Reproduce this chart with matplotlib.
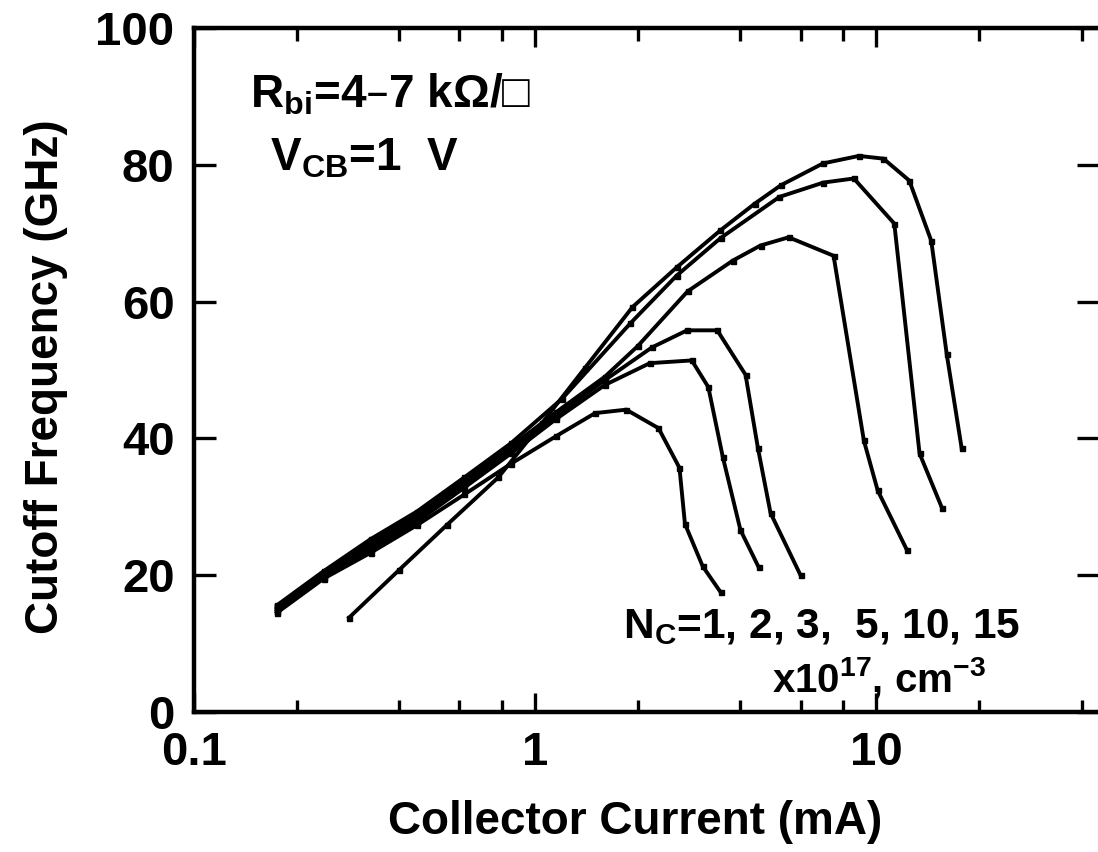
import matplotlib
matplotlib.use("Agg")
import matplotlib.pyplot as plt
from matplotlib.ticker import LogLocator, FixedLocator, NullFormatter, FixedFormatter

# ---- data ----
nc1_x = [0.175, 0.24, 0.33, 0.45, 0.62, 0.85, 1.15, 1.5, 1.85, 2.3, 2.65, 2.75, 3.1, 3.5]
nc1_y = [14.5, 19.5, 23.3, 27.3, 31.8, 36.3, 40.3, 43.7, 44.2, 41.5, 35.7, 27.5, 21.3, 17.5]

nc2_x = [0.175, 0.24, 0.33, 0.45, 0.62, 0.85, 1.15, 1.6, 2.17, 2.88, 3.22, 3.55, 4.0, 4.52]
nc2_y = [14.8, 19.8, 23.8, 27.8, 32.8, 37.8, 42.8, 47.8, 51.0, 51.4, 47.5, 37.3, 26.6, 21.2]

nc3_x = [0.175, 0.24, 0.33, 0.45, 0.62, 0.85, 1.15, 1.6, 2.2, 2.79, 3.42, 4.14, 4.5, 4.9, 6.0]
nc3_y = [15.1, 20.1, 24.3, 28.3, 33.3, 38.3, 43.3, 48.5, 53.3, 55.8, 55.8, 49.3, 38.6, 29.1, 20.0]

nc5_x = [0.175, 0.24, 0.33, 0.45, 0.62, 0.85, 1.15, 1.6, 2.0, 2.8, 3.8, 4.58, 5.54, 7.5, 9.2, 10.1, 12.3]
nc5_y = [15.3, 20.3, 24.8, 28.8, 33.8, 38.8, 43.8, 49.0, 53.5, 61.5, 66.0, 68.2, 69.4, 66.7, 39.7, 32.4, 23.7]

nc10_x = [0.175, 0.24, 0.33, 0.45, 0.62, 0.85, 1.2, 1.9, 2.6, 3.5, 5.2, 7.0, 8.6, 11.3, 13.4, 15.6]
nc10_y = [15.6, 20.6, 25.3, 29.3, 34.3, 39.3, 45.8, 56.8, 63.8, 69.3, 75.3, 77.4, 78.0, 71.4, 37.8, 29.8]

nc15_x = [0.285, 0.4, 0.55, 0.78, 1.05, 1.4, 1.93, 2.6, 3.49, 4.4, 5.25, 6.98, 8.9, 10.5, 12.5, 14.5, 16.1, 17.8]
nc15_y = [13.8, 20.8, 27.3, 34.3, 42.3, 50.3, 59.2, 65.0, 70.4, 74.3, 77.0, 80.2, 81.3, 80.9, 77.7, 68.9, 52.3, 38.6]

series = [(nc1_x, nc1_y), (nc2_x, nc2_y), (nc3_x, nc3_y),
          (nc5_x, nc5_y), (nc10_x, nc10_y), (nc15_x, nc15_y)]

x_ticks = [0.1, 1, 10]
x_tick_labels = ["0.1", "1", "10"]
y_ticks = [0, 20, 40, 60, 80, 100]
y_tick_labels = ["0", "20", "40", "60", "80", "100"]

FAM = ["Liberation Sans", "DejaVu Sans"]
plt.rcParams["font.family"] = FAM
plt.rcParams["font.weight"] = "bold"
plt.rcParams["mathtext.default"] = "regular"

W, H = 1098, 852
fig = plt.figure(figsize=(W / 100, H / 100), dpi=100)
ax = fig.add_axes([194 / W, (H - 712) / H, (1099 - 194) / W, (712 - 28) / H])

for xs, ys in series:
    ax.plot(xs, ys, color="black", lw=2.8, marker="s", ms=3.6,
            mfc="black", mec="black", solid_joinstyle="miter")

ax.set_xscale("log")
ax.set_xlim(0.1, 45)
ax.set_ylim(0, 100)

ax.xaxis.set_major_locator(FixedLocator(x_ticks))
ax.xaxis.set_major_formatter(FixedFormatter(x_tick_labels))
ax.xaxis.set_minor_locator(LogLocator(base=10, subs=[2, 4, 6, 8]))
ax.xaxis.set_minor_formatter(NullFormatter())
ax.yaxis.set_major_locator(FixedLocator(y_ticks))
ax.yaxis.set_major_formatter(FixedFormatter(y_tick_labels))

for s in ["left", "bottom", "top"]:
    ax.spines[s].set_linewidth(3.2)
ax.spines["right"].set_visible(False)

ax.tick_params(axis="x", which="major", direction="in", length=14, width=2.4,
               top=True, bottom=True, labelsize=34, pad=14)
ax.tick_params(axis="x", which="minor", direction="in", length=9, width=2.4,
               top=True, bottom=True)
ax.tick_params(axis="y", which="major", direction="in", length=16, width=2.4,
               left=True, right=True, labelsize=34, pad=14)

fig.text(46 / W, 1 - 377 / H, "Cutoff Frequency (GHz)", rotation=90,
         ha="center", va="center", fontsize=33, fontweight="bold")
fig.text(635 / W, 1 - 822 / H, "Collector Current (mA)",
         ha="center", va="center", fontsize=33, fontweight="bold")

fig.text(250 / W, 1 - 95 / H, "R$_{bi}$=4\u20137 k\u03a9/\u25a1",
         ha="left", va="center", fontsize=33, fontweight="bold")
fig.text(270 / W, 1 - 158 / H, "V$_{CB}$=1  V",
         ha="left", va="center", fontsize=33, fontweight="bold")
fig.text(623 / W, 1 - 627 / H, "N$_{C}$=1, 2, 3,  5, 10, 15",
         ha="left", va="center", fontsize=30.5, fontweight="bold")
fig.text(772 / W, 1 - 678 / H, "x10$^{17}$, cm$^{-3}$",
         ha="left", va="center", fontsize=29, fontweight="bold")

fig.savefig("out.png", dpi=100, facecolor="white")
